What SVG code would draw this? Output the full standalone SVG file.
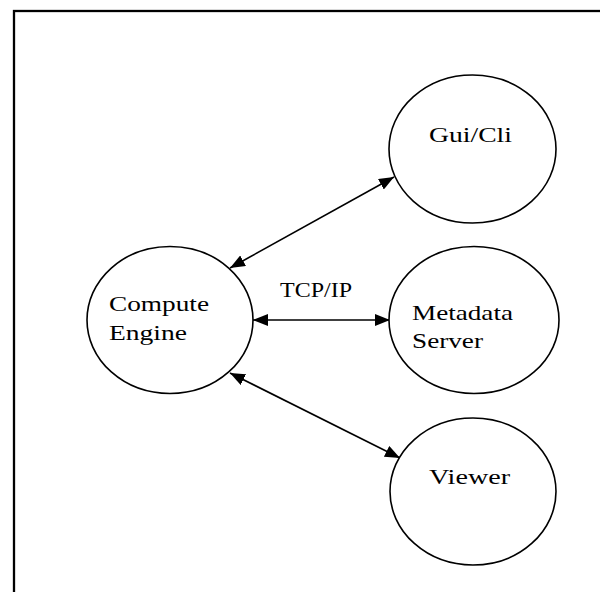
<svg xmlns="http://www.w3.org/2000/svg" width="600" height="592" viewBox="0 0 600 592">
<style>
.n{fill:#fff;stroke:#000;stroke-width:1.6}
.t{font-family:"Liberation Serif","Times New Roman",serif;font-size:21px;fill:#000}
.c{stroke:#000;stroke-width:1.6;fill:none;marker-start:url(#ah);marker-end:url(#ah)}
</style>
<defs>
<marker id="ah" viewBox="0 0 15 12" refX="15" refY="6" markerWidth="15" markerHeight="12" markerUnits="userSpaceOnUse" orient="auto-start-reverse">
<path d="M0,0 L15,6 L0,12 Z" fill="#000"/>
</marker>
</defs>
<rect x="0" y="0" width="600" height="592" fill="#fff"/>
<rect x="14" y="11" width="600" height="600" fill="none" stroke="#000" stroke-width="2.3"/>
<g id="connectors">
<line class="c" x1="394" y1="177" x2="230" y2="268"/>
<line class="c" x1="253" y1="320" x2="390" y2="320"/>
<line class="c" x1="230" y1="373" x2="400" y2="458"/>
<text class="t" x="280" y="297" textLength="72" lengthAdjust="spacingAndGlyphs">TCP/IP</text>
</g>
<g id="gui">
<ellipse class="n" cx="472.5" cy="149" rx="83.5" ry="74"/>
<text class="t" x="429" y="142" textLength="83" lengthAdjust="spacingAndGlyphs">Gui/Cli</text>
</g>
<g id="compute">
<ellipse class="n" cx="170" cy="320" rx="83" ry="73.5"/>
<text class="t" x="109" y="311" textLength="100" lengthAdjust="spacingAndGlyphs">Compute</text>
<text class="t" x="109" y="340" textLength="78" lengthAdjust="spacingAndGlyphs">Engine</text>
</g>
<g id="metadata">
<ellipse class="n" cx="474" cy="320" rx="85" ry="73.5"/>
<text class="t" x="412" y="320" textLength="101" lengthAdjust="spacingAndGlyphs">Metadata</text>
<text class="t" x="412" y="348" textLength="71" lengthAdjust="spacingAndGlyphs">Server</text>
</g>
<g id="viewer">
<ellipse class="n" cx="473" cy="491.5" rx="83" ry="73.5"/>
<text class="t" x="429" y="484" textLength="81" lengthAdjust="spacingAndGlyphs">Viewer</text>
</g>
</svg>
